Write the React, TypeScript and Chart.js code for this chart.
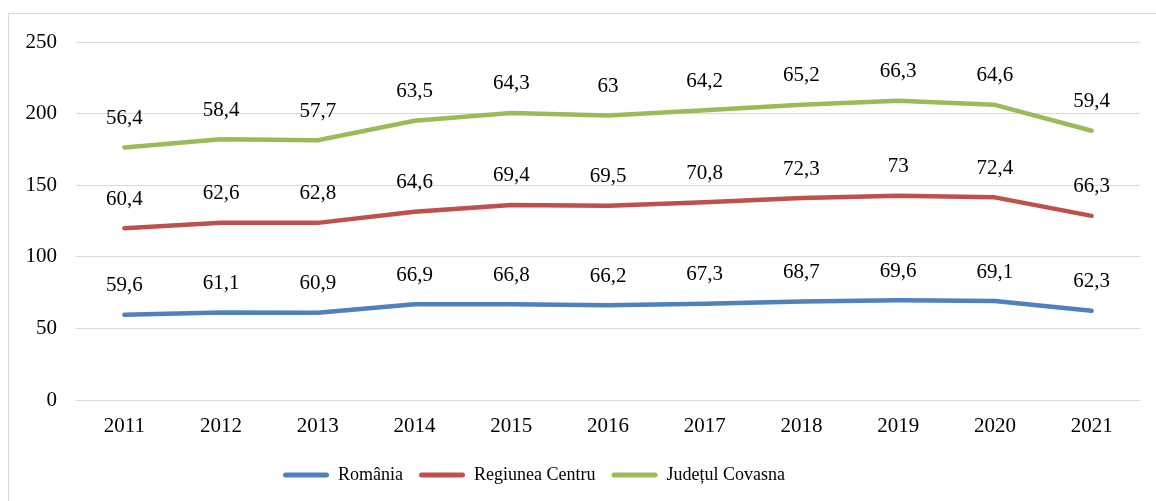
import React, { useEffect, useRef } from "react";
import { Chart, registerables } from "chart.js";

Chart.register(...registerables);

const years = ["2011", "2012", "2013", "2014", "2015", "2016", "2017", "2018", "2019", "2020", "2021"];
const romania = [59.6, 61.1, 60.9, 66.9, 66.8, 66.2, 67.3, 68.7, 69.6, 69.1, 62.3];
const regiuneaCentru = [60.4, 62.6, 62.8, 64.6, 69.4, 69.5, 70.8, 72.3, 73, 72.4, 66.3];
const judetulCovasna = [56.4, 58.4, 57.7, 63.5, 64.3, 63, 64.2, 65.2, 66.3, 64.6, 59.4];
const yTicks = [0, 50, 100, 150, 200, 250];

const FONT = "'Liberation Serif', 'Times New Roman', serif";
const FS = 21;
const LFS = 18;

const labelPlugin = {
  id: "valueLabels",
  afterDatasetsDraw(chart: any) {
    const ctx = chart.ctx;
    ctx.save();
    ctx.font = `${FS}px ${FONT}`;
    ctx.fillStyle = "#000";
    ctx.textAlign = "center";
    ctx.textBaseline = "middle";
    chart.data.datasets.forEach((ds: any, i: number) => {
      const meta = chart.getDatasetMeta(i);
      meta.data.forEach((pt: any, j: number) => {
        const v = ds.data[j];
        ctx.fillText(String(v).replace(".", ","), pt.x, pt.y - 29);
      });
    });
    ctx.restore();
  },
};

export default function App() {
  const ref = useRef<HTMLCanvasElement>(null);
  useEffect(() => {
    if (!ref.current) return;
    const mk = (label: string, data: number[], color: string) => ({
      label,
      data,
      borderColor: color,
      backgroundColor: color,
      borderWidth: 4.5,
      borderCapStyle: "round",
      borderJoinStyle: "round",
      pointRadius: 0,
      pointHoverRadius: 0,
      fill: false,
      tension: 0,
    });
    const chart = new Chart(ref.current, {
      type: "line",
      data: {
        labels: years,
        datasets: [
          mk("România", romania, "#4F81BD"),
          mk("Regiunea Centru", regiuneaCentru, "#C0504D"),
          mk("Județul Covasna", judetulCovasna, "#9BBB59"),
        ] as any,
      },
      options: {
        animation: false,
        responsive: false,
        maintainAspectRatio: false,
        layout: { padding: { top: 42, right: 16, bottom: 7, left: -72 } },
        scales: {
          x: {
            offset: true,
            grid: { display: false },
            border: { display: false },
            ticks: { color: "#000", font: { family: FONT, size: FS }, padding: 6 },
            afterFit: (s: any) => { s.height = 50; },
          },
          y: {
            stacked: true,
            min: 0,
            max: 250,
            afterBuildTicks: (s: any) => { s.ticks = yTicks.map((v) => ({ value: v })); },
            grid: { color: "#d9d9d9", lineWidth: 1, drawTicks: false },
            border: { display: false },
            ticks: { color: "#000", font: { family: FONT, size: FS }, padding: 19 },
            afterFit: (s: any) => { s.width = 148; },
          },
        },
        plugins: {
          tooltip: { enabled: false },
          legend: {
            position: "bottom",
            labels: {
              color: "#000",
              font: { family: FONT, size: LFS },
              boxWidth: 46,
              boxHeight: 5,
              padding: 16,
              useBorderRadius: true,
              borderRadius: 2.5,
              generateLabels: (c: any) =>
                c.data.datasets.map((d: any, i: number) => ({
                  text: d.label,
                  fillStyle: d.borderColor,
                  strokeStyle: d.borderColor,
                  lineWidth: 0,
                  fontColor: "#000",
                  datasetIndex: i,
                  hidden: false,
                  borderRadius: 2.5,
                })),
            },
          },
        },
      } as any,
      plugins: [labelPlugin],
    });
    return () => chart.destroy();
  }, []);
  return (
    <div style={{ position: "absolute", left: 0, top: 0, width: 1156, height: 501, background: "#fff", overflow: "hidden" }}>
      <div style={{ position: "absolute", left: 8, top: 13, width: 1200, height: 600, border: "1px solid #d9d9d9" }} />
      <canvas ref={ref} width={1156} height={501} style={{ position: "absolute", left: 0, top: 0, width: 1156, height: 501 }} />
    </div>
  );
}
